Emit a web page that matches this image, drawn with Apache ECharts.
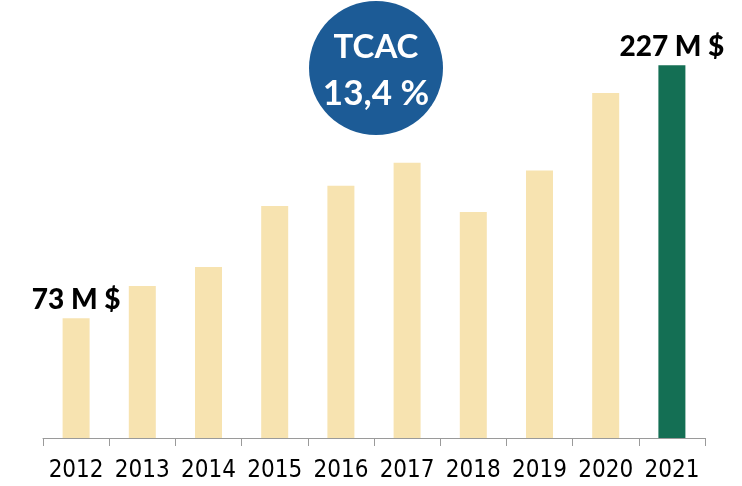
<!DOCTYPE html>
<html>
<head>
<meta charset="utf-8">
<script src="https://cdn.jsdelivr.net/npm/echarts@6/dist/echarts.min.js"></script>
<style>
html, body { margin: 0; padding: 0; background: #fff; }
#chart { width: 742px; height: 486px; }
</style>
</head>
<body>
<div id="chart"></div>
<script>
var years = ['2012', '2013', '2014', '2015', '2016', '2017', '2018', '2019', '2020', '2021'];
var values = [73, 92.6, 104.2, 141.3, 153.6, 167.6, 137.7, 163, 210.2, 227];
var endLabels = ['73 M $', '227 M $'];
var cagrText = ['TCAC', '13,4 %'];

var myChart = echarts.init(document.getElementById('chart'));

var barData = values.map(function (v, i) {
    var item = { value: v };
    if (i === values.length - 1) {
        item.itemStyle = { color: '#146F54' };
        item.label = { show: true, formatter: endLabels[1] };
    }
    if (i === 0) {
        item.label = { show: true, formatter: endLabels[0] };
    }
    return item;
});

var option = {
    animation: false,
    grid: { left: 43, right: 37, top: 44, bottom: 48 },
    xAxis: {
        type: 'category',
        data: years,
        axisLine: { lineStyle: { color: '#9a9a9a', width: 1 } },
        axisTick: { show: true, interval: 0, length: 8, lineStyle: { color: '#9a9a9a' } },
        axisLabel: {
            interval: 0,
            color: '#000',
            fontFamily: '"DejaVu Sans Condensed", "Liberation Sans", sans-serif',
            fontSize: 24,
            margin: 21
        }
    },
    yAxis: {
        type: 'value',
        min: 0,
        max: 240,
        show: false,
        splitLine: { show: false }
    },
    series: [
        {
            type: 'bar',
            data: barData,
            barWidth: 27,
            itemStyle: { color: '#F7E3B0' },
            label: {
                show: false,
                position: 'top',
                distance: 4,
                color: '#000',
                fontFamily: 'Lato, sans-serif',
                fontWeight: 900,
                fontSize: 28
            }
        }
    ],
    graphic: [
        {
            type: 'circle',
            shape: { cx: 376, cy: 68, r: 67 },
            style: { fill: '#1C5B96' }
        },
        {
            type: 'text',
            x: 376,
            y: 47,
            style: {
                text: cagrText[0],
                fill: '#fff',
                font: 'bold 33px Lato, sans-serif',
                align: 'center',
                verticalAlign: 'middle'
            }
        },
        {
            type: 'text',
            x: 376,
            y: 94,
            style: {
                text: cagrText[1],
                fill: '#fff',
                font: 'bold 35px Lato, sans-serif',
                align: 'center',
                verticalAlign: 'middle'
            }
        }
    ]
};

myChart.setOption(option);
</script>
</body>
</html>
